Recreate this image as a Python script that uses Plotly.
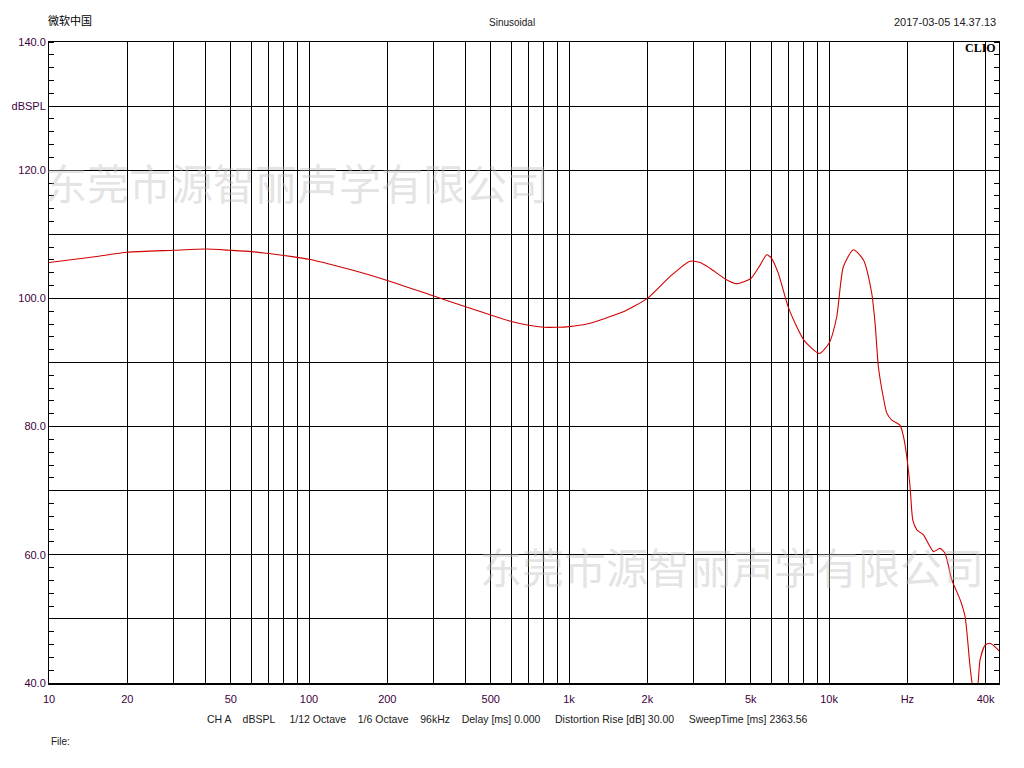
import plotly.graph_objects as go

# Frequency response (Hz, dBSPL)
freq_hz = [
    10, 15, 20, 30, 40, 50, 60, 70, 80, 90, 100, 150, 200, 300, 400, 500,
    600, 700, 800, 900, 1000, 1170, 1355, 1617, 2000, 2444, 2917, 3191, 3484,
    4000, 4416, 5000, 5430, 5754, 6000, 6381, 7000, 8000, 9166, 10000, 10700,
    11340, 12400, 13560, 14590, 15030, 15480, 16180, 16680, 17430, 18750,
    19340, 19900, 20490, 20990, 21750, 23070, 25200, 26730, 27940, 29650,
    31910, 33370, 34860, 35880, 36960, 38080, 39810, 41620, 44130, 45000,
]
spl_db = [
    105.6, 106.5, 107.2, 107.5, 107.7, 107.5, 107.3, 107.0, 106.7, 106.4,
    106.1, 104.3, 102.8, 100.4, 98.7, 97.4, 96.4, 95.8, 95.5, 95.5,
    95.6, 96.0, 96.8, 97.9, 100.0, 103.4, 105.8, 105.6, 104.7, 103.0, 102.3,
    103.1, 105.2, 106.8, 106.3, 103.9, 98.4, 93.5, 91.4, 93.0, 97.1, 104.9,
    107.6, 106.0, 100.8, 96.1, 89.3, 84.5, 82.1, 81.0, 80.2, 78.4, 75.3,
    70.6, 65.4, 63.9, 63.1, 60.5, 61.0, 60.2, 56.1, 53.0, 50.3, 42.5, 39.0,
    38.5, 43.6, 45.9, 46.2, 45.4, 45.0,
]

# Grid / tick labels on the frequency axis
grid_freqs = [10, 20, 30, 40, 50, 60, 70, 80, 90,
              100, 200, 300, 400, 500, 600, 700, 800, 900,
              1000, 2000, 3000, 4000, 5000, 6000, 7000, 8000, 9000,
              10000, 20000, 30000, 40000]
freq_labels = {10: "10", 20: "20", 50: "50", 100: "100", 200: "200", 500: "500",
               1000: "1k", 2000: "2k", 5000: "5k", 10000: "10k", 20000: "Hz",
               40000: "40k"}

spl_ticks = [40, 50, 60, 70, 80, 90, 100, 110, 120, 130, 140]
spl_labels = ["40.0", "", "60.0", "", "80.0", "", "100.0", "", "120.0", "dBSPL", "140.0"]

label_color = "#400040"
watermark = "东莞市源智丽声学有限公司"
footer = ("CH A    dBSPL     1/12 Octave    1/6 Octave    96kHz    Delay [ms] 0.000     "
          "Distortion Rise [dB] 30.00     SweepTime [ms] 2363.56")

fig = go.Figure()

fig.add_trace(go.Scatter(
    x=freq_hz, y=spl_db, mode="lines",
    line=dict(color="#d00000", width=1.1, shape="spline", smoothing=0.6),
    showlegend=False, cliponaxis=True,
))

# invisible trace to drive the top/right frame axes
fig.add_trace(go.Scatter(x=[10], y=[40], xaxis="x2", yaxis="y2",
                         mode="markers", marker=dict(opacity=0),
                         showlegend=False, hoverinfo="skip"))

# page body has an 8px margin, so the plot margins are shifted by that
fig.update_layout(
    width=1024, height=768,
    margin=dict(l=41, r=33, t=34, b=93),
    paper_bgcolor="white", plot_bgcolor="white",
    font=dict(family="Liberation Sans, Arial, sans-serif", size=11, color=label_color),
    xaxis=dict(
        type="log", range=[1, 4.6535], automargin=False,
        tickvals=grid_freqs,
        ticktext=[freq_labels.get(f, "") for f in grid_freqs],
        showgrid=True, gridcolor="black", gridwidth=1,
        showline=True, linecolor="black", linewidth=2,
        ticks="", zeroline=False, ticklabelstandoff=5,
        tickfont=dict(size=11, color=label_color),
    ),
    xaxis2=dict(
        type="log", range=[1, 4.6535], overlaying="x", side="top", automargin=False,
        showgrid=False, showline=True, linecolor="black", linewidth=1,
        showticklabels=False, ticks="",
    ),
    yaxis=dict(
        range=[40, 140], tickvals=spl_ticks, ticktext=spl_labels, automargin=False,
        showgrid=True, gridcolor="black", gridwidth=1,
        showline=True, linecolor="black", linewidth=1,
        ticks="", zeroline=False, tickfont=dict(size=11, color=label_color),
        minor=dict(dtick=2, ticks="inside", ticklen=5, tickcolor="black",
                   showgrid=False),
    ),
    yaxis2=dict(
        range=[40, 140], overlaying="y", side="right", anchor="x", automargin=False,
        showgrid=False, showline=True, linecolor="black", linewidth=1,
        showticklabels=False, ticks="", tickvals=spl_ticks,
        minor=dict(dtick=2, ticks="inside", ticklen=5, tickcolor="black",
                   showgrid=False),
    ),
)

# header texts
fig.add_annotation(text="微软中国", xref="paper", yref="paper", x=-0.003, y=1.034,
                   xanchor="left", yanchor="middle", showarrow=False,
                   font=dict(family="Noto Sans CJK SC", size=11, color="black"))
fig.add_annotation(text="Sinusoidal", xref="paper", yref="paper", x=0.487, y=1.031,
                   xanchor="center", yanchor="middle", showarrow=False,
                   font=dict(size=10, color="#202020"))
fig.add_annotation(text="2017-03-05 14.37.13", xref="paper", yref="paper", x=0.999, y=1.031,
                   xanchor="right", yanchor="middle", showarrow=False,
                   font=dict(size=11, color="#202020"))
fig.add_annotation(text="<b>CLIO</b>", xref="paper", yref="paper", x=0.999, y=0.991,
                   xanchor="right", yanchor="middle", showarrow=False,
                   font=dict(family="Liberation Serif, DejaVu Serif, serif", size=12, color="black"))

# watermarks
for wx, wy in [(-0.006, 0.783), (0.452, 0.184)]:
    fig.add_annotation(text=watermark, xref="paper", yref="paper", x=wx, y=wy,
                       xanchor="left", yanchor="middle", showarrow=False,
                       font=dict(family="Noto Sans CJK SC", size=42,
                                 color="rgba(190,190,190,0.42)"))

# footer
fig.add_annotation(text=footer, xref="paper", yref="paper", x=0.482, y=-0.056,
                   xanchor="center", yanchor="middle", showarrow=False,
                   font=dict(size=10.5, color="#202020"))
fig.add_annotation(text="File:", xref="paper", yref="paper", x=0.0, y=-0.0905,
                   xanchor="left", yanchor="middle", showarrow=False,
                   font=dict(size=10, color="#202020"))

fig.write_html("out.html")
